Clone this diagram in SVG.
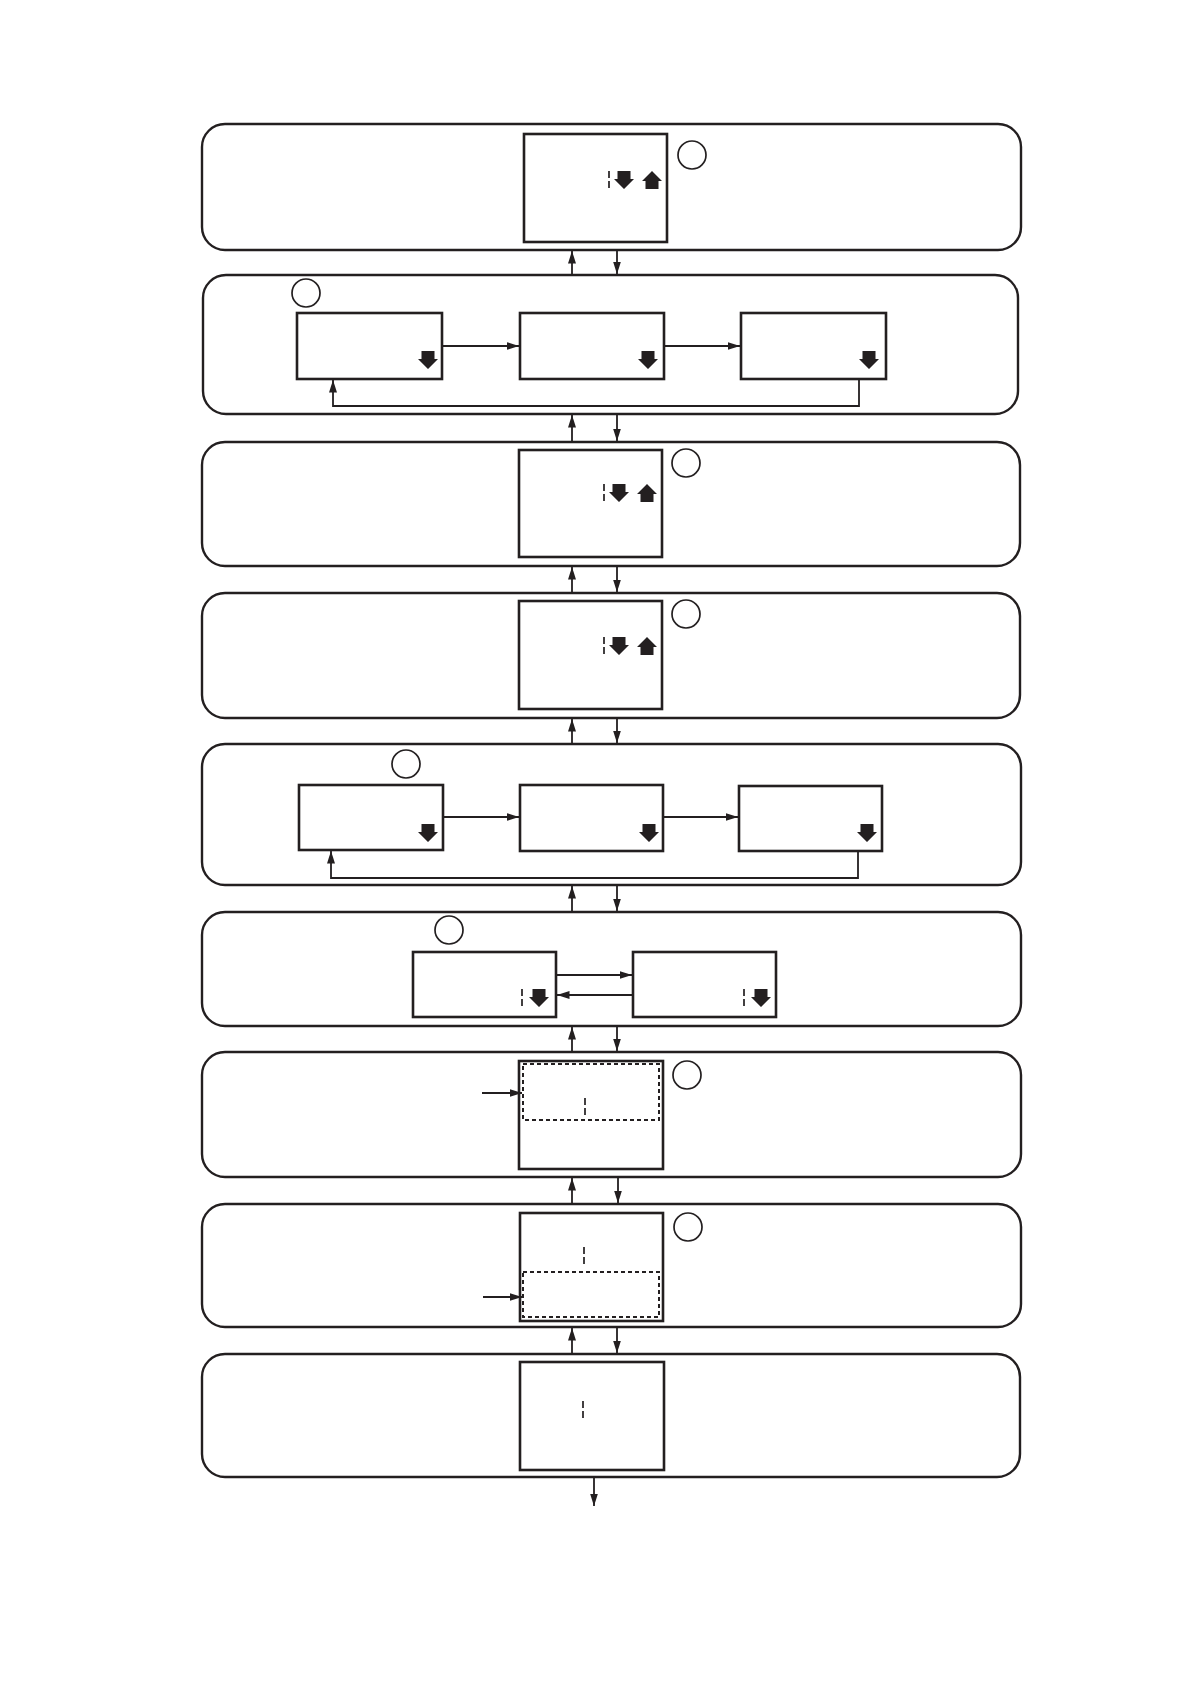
<svg xmlns="http://www.w3.org/2000/svg" width="1191" height="1685" viewBox="0 0 1191 1685">
<style>
.panel{fill:none;stroke:#231f20;stroke-width:2.4}
.box{fill:#fff;stroke:#231f20;stroke-width:2.6}
.dbox{fill:none;stroke:#231f20;stroke-width:2;stroke-dasharray:4 3}
.circ{fill:none;stroke:#231f20;stroke-width:1.7}
.conn{fill:none;stroke:#231f20;stroke-width:1.8;marker-end:url(#ah)}
.dash{stroke:#231f20;stroke-width:1.7;stroke-dasharray:7 3}
.ico{fill:#231f20}
</style>
<defs>
<marker id="ah" markerUnits="userSpaceOnUse" markerWidth="14" markerHeight="9" refX="12.5" refY="4" orient="auto">
<path d="M0,0 L12.5,4 L0,8 Z" fill="#231f20"/>
</marker>
<path id="dn" d="M3.5,0 H16.5 V8 H20 L10,18 L0,8 H3.5 Z"/>
<path id="up" d="M10,0 L20,10 H16.5 V18 H3.5 V10 H0 Z"/>
</defs>
<rect width="1191" height="1685" fill="#fff"/>

<g id="panel1">
<rect class="panel" x="202" y="124" width="819" height="126" rx="23"/>
<rect class="box" x="524" y="134" width="143" height="108"/>
<line class="dash" x1="609" y1="171" x2="609" y2="189"/>
<use href="#dn" class="ico" x="614" y="171"/>
<use href="#up" class="ico" x="642" y="171"/>
<circle class="circ" cx="692" cy="155" r="14"/>
</g>

<g id="panel2">
<rect class="panel" x="203" y="275" width="815" height="139" rx="23"/>
<circle class="circ" cx="306" cy="293" r="14"/>
<rect class="box" x="297" y="313" width="145" height="66"/>
<use href="#dn" class="ico" x="418" y="351"/>
<rect class="box" x="520" y="313" width="144" height="66"/>
<use href="#dn" class="ico" x="638" y="351"/>
<rect class="box" x="741" y="313" width="145" height="66"/>
<use href="#dn" class="ico" x="859" y="351"/>
</g>

<g id="panel3">
<rect class="panel" x="202" y="442" width="818" height="124" rx="23"/>
<rect class="box" x="519" y="450" width="143" height="107"/>
<line class="dash" x1="604" y1="484" x2="604" y2="502"/>
<use href="#dn" class="ico" x="609" y="484"/>
<use href="#up" class="ico" x="637" y="484"/>
<circle class="circ" cx="686" cy="463" r="14"/>
</g>

<g id="panel4">
<rect class="panel" x="202" y="593" width="818" height="125" rx="23"/>
<rect class="box" x="519" y="601" width="143" height="108"/>
<line class="dash" x1="604" y1="637" x2="604" y2="655"/>
<use href="#dn" class="ico" x="609" y="637"/>
<use href="#up" class="ico" x="637" y="637"/>
<circle class="circ" cx="686" cy="614" r="14"/>
</g>

<g id="panel5">
<rect class="panel" x="202" y="744" width="819" height="141" rx="23"/>
<circle class="circ" cx="406" cy="764" r="14"/>
<rect class="box" x="299" y="785" width="144" height="65"/>
<use href="#dn" class="ico" x="418" y="824"/>
<rect class="box" x="520" y="785" width="143" height="66"/>
<use href="#dn" class="ico" x="639" y="824"/>
<rect class="box" x="739" y="786" width="143" height="65"/>
<use href="#dn" class="ico" x="857" y="824"/>
</g>

<g id="panel6">
<rect class="panel" x="202" y="912" width="819" height="114" rx="23"/>
<circle class="circ" cx="449" cy="930" r="14"/>
<rect class="box" x="413" y="952" width="143" height="65"/>
<line class="dash" x1="522" y1="989" x2="522" y2="1007"/>
<use href="#dn" class="ico" x="529" y="989"/>
<rect class="box" x="633" y="952" width="143" height="65"/>
<line class="dash" x1="744" y1="989" x2="744" y2="1007"/>
<use href="#dn" class="ico" x="751" y="989"/>
</g>

<g id="panel7">
<rect class="panel" x="202" y="1052" width="819" height="125" rx="23"/>
<rect class="box" x="519" y="1061" width="144" height="108"/>
<rect class="dbox" x="523" y="1064" width="136" height="56"/>
<line class="dash" x1="585" y1="1098" x2="585" y2="1115"/>
<circle class="circ" cx="687" cy="1075" r="14"/>
</g>

<g id="panel8">
<rect class="panel" x="202" y="1204" width="819" height="123" rx="23"/>
<rect class="box" x="520" y="1213" width="143" height="108"/>
<rect class="dbox" x="523" y="1272" width="136" height="45"/>
<line class="dash" x1="584" y1="1247" x2="584" y2="1265"/>
<circle class="circ" cx="688" cy="1227" r="14"/>
</g>

<g id="panel9">
<rect class="panel" x="202" y="1354" width="818" height="123" rx="23"/>
<rect class="box" x="520" y="1362" width="144" height="108"/>
<line class="dash" x1="583" y1="1401" x2="583" y2="1419"/>
</g>

<g id="connectors">
<line class="conn" x1="572" y1="275" x2="572" y2="251"/>
<line class="conn" x1="617" y1="250" x2="617" y2="274"/>
<line class="conn" x1="572" y1="442" x2="572" y2="415"/>
<line class="conn" x1="617" y1="414" x2="617" y2="441"/>
<line class="conn" x1="572" y1="593" x2="572" y2="567"/>
<line class="conn" x1="617" y1="566" x2="617" y2="592"/>
<line class="conn" x1="572" y1="744" x2="572" y2="719"/>
<line class="conn" x1="617" y1="718" x2="617" y2="743"/>
<line class="conn" x1="572" y1="912" x2="572" y2="886"/>
<line class="conn" x1="617" y1="885" x2="617" y2="911"/>
<line class="conn" x1="572" y1="1052" x2="572" y2="1027"/>
<line class="conn" x1="617" y1="1026" x2="617" y2="1051"/>
<line class="conn" x1="572" y1="1204" x2="572" y2="1178"/>
<line class="conn" x1="618" y1="1177" x2="618" y2="1203"/>
<line class="conn" x1="572" y1="1354" x2="572" y2="1328"/>
<line class="conn" x1="617" y1="1327" x2="617" y2="1353"/>
<line class="conn" x1="594" y1="1477" x2="594" y2="1506"/>

<line class="conn" x1="443" y1="346" x2="519" y2="346"/>
<line class="conn" x1="665" y1="346" x2="740" y2="346"/>
<polyline class="conn" points="859,380 859,406 333,406 333,380"/>

<line class="conn" x1="444" y1="817" x2="519" y2="817"/>
<line class="conn" x1="664" y1="817" x2="738" y2="817"/>
<polyline class="conn" points="858,852 858,878 331,878 331,851"/>

<line class="conn" x1="557" y1="975" x2="632" y2="975"/>
<line class="conn" x1="632" y1="995" x2="557" y2="995"/>

<line class="conn" x1="482" y1="1093" x2="522" y2="1093"/>
<line class="conn" x1="483" y1="1297" x2="522" y2="1297"/>
</g>
</svg>
